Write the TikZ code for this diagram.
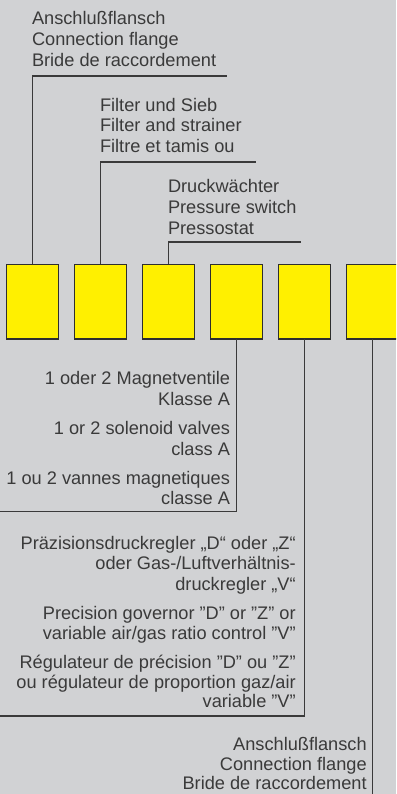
\documentclass[tikz,border=0pt]{standalone}
\usepackage{fontspec}
\setmainfont{Liberation Sans}
\definecolor{bg}{HTML}{D1D2D4}
\definecolor{ylw}{HTML}{FFF000}
\definecolor{ink}{HTML}{3A3A3A}
\definecolor{edge}{HTML}{2E2E2E}
\begin{document}
\begin{tikzpicture}[x=1pt,y=1pt,
  unitbox/.style={draw=edge, line width=1.2pt, fill=ylw, minimum width=52pt, minimum height=74.7pt, inner sep=0pt, outer sep=0pt},
  lbl/.style={inner sep=0pt, outer sep=0pt, text=ink, font=\fontsize{18.2}{20}\selectfont},
  lw/.style={lbl, anchor=base west},
  le/.style={lbl, anchor=base east},
  conn/.style={draw=ink, line width=1.2pt}]
\fill[bg] (0,0) rectangle (396,-794);
\useasboundingbox (0,0) rectangle (396,-794);
\clip (0,0) rectangle (396,-794);
% boxes
\foreach \i in {1,...,6} {
  \node[unitbox, anchor=north west] (b\i) at ({6.3+68*(\i-1)},-264.3) {};
}
% block 1
\node[lw] (a1) at (32,-24.9) {Anschlußflansch};
\node[lw] (a2) at (32,-45.6) {Connection flange};
\node[lw] (a3) at (32,-66.3) {Bride de raccordement};
\coordinate (h1) at (226.7,-76);
\draw[conn] (b1.north) -- (b1.north |- h1) -- (h1);
% block 2
\node[lw] (f1) at (100,-111.3) {Filter und Sieb};
\node[lw] (f2) at (100,-131.8) {Filter and strainer};
\node[lw] (f3) at (100,-152.3) {Filtre et tamis ou};
\coordinate (h2) at (255.7,-162);
\draw[conn] (b2.north) -- (b2.north |- h2) -- (h2);
% block 3
\node[lw] (d1) at (168,-192.7) {Druckwächter};
\node[lw] (d2) at (168,-213.3) {Pressure switch};
\node[lw] (d3) at (168,-234) {Pressostat};
\coordinate (h3) at (301,-242);
\draw[conn] (b3.north) -- (b3.north |- h3) -- (h3);
% block 4
\node[le] (m1) at (230,-384.3) {1 oder 2 Magnetventile};
\node[le] (m2) at (230,-405) {Klasse A};
\node[le] (m3) at (230,-434.3) {1 or 2 solenoid valves};
\node[le] (m4) at (230,-455) {class A};
\node[le] (m5) at (230,-484) {1 ou 2 vannes magnetiques};
\node[le] (m6) at (230,-504.3) {classe A};
\coordinate (h4) at (0,-511.7);
\draw[conn] (b4.south) -- (b4.south |- h4) -- (h4);
% block 5
\node[le] (p1) at (295.7,-549) {Präzisionsdruckregler „D“ oder „Z“};
\node[le] (p2) at (295.7,-569.7) {oder Gas-/Luftverhältnis-};
\node[le] (p3) at (295.7,-590.2) {druckregler „V“};
\node[le] (p4) at (295.7,-619) {Precision governor ”D” or ”Z” or};
\node[le] (p5) at (295.7,-639.5) {variable air/gas ratio control ”V”};
\node[le] (p6) at (295.7,-668.3) {Régulateur de précision ”D” ou ”Z”};
\node[le] (p7) at (295.7,-688) {ou régulateur de proportion gaz/air};
\node[le] (p8) at (295.7,-707) {variable ”V”};
\coordinate (h5) at (0,-716);
\draw[conn] (b5.south) -- (b5.south |- h5) -- (h5);
% block 6
\node[le] (c1) at (366.7,-750.7) {Anschlußflansch};
\node[le] (c2) at (366.7,-770) {Connection flange};
\node[le] (c3) at (366.7,-789.3) {Bride de raccordement};
\coordinate (h6) at (372.3,-794);
\draw[conn] (b6.south) -- (h6);
\end{tikzpicture}
\end{document}
